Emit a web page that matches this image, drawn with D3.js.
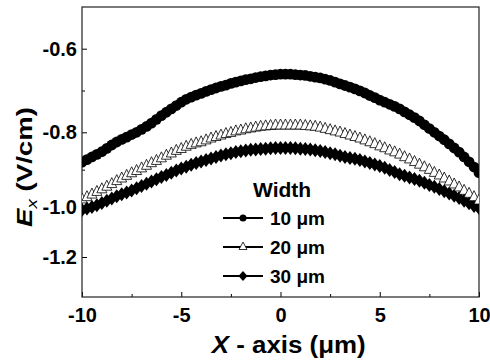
<!DOCTYPE html>
<html>
<head>
<meta charset="utf-8">
<script src="https://cdn.jsdelivr.net/npm/d3@7"></script>
<style>
  body { margin: 0; background: #fff; }
  svg { display: block; }
  text { font-family: "Liberation Sans", Arial, sans-serif; font-weight: bold; fill: #000; }
</style>
</head>
<body>
<svg id="chart" width="490" height="362"></svg>
<script>
// Position along the channel (µm)
const xPositions = [
  -10, -9.75, -9.5, -9.25, -9, -8.75, -8.5, -8.25, -8, -7.75,
  -7.5, -7.25, -7, -6.75, -6.5, -6.25, -6, -5.75, -5.5, -5.25,
  -5, -4.75, -4.5, -4.25, -4, -3.75, -3.5, -3.25, -3, -2.75,
  -2.5, -2.25, -2, -1.75, -1.5, -1.25, -1, -0.75, -0.5, -0.25,
  0,
  0.25, 0.5, 0.75, 1, 1.25, 1.5, 1.75, 2, 2.25, 2.5,
  2.75, 3, 3.25, 3.5, 3.75, 4, 4.25, 4.5, 4.75, 5,
  5.25, 5.5, 5.75, 6, 6.25, 6.5, 6.75, 7, 7.25, 7.5,
  7.75, 8, 8.25, 8.5, 8.75, 9, 9.25, 9.5, 9.75, 10
];

// Ex (V/cm) for each channel width
const width10 = [
  -0.880, -0.873, -0.866, -0.859, -0.852, -0.843, -0.834, -0.826, -0.819, -0.813,
  -0.806, -0.800, -0.793, -0.786, -0.778, -0.769, -0.760, -0.752, -0.744, -0.736,
  -0.728, -0.721, -0.716, -0.711, -0.707, -0.702, -0.698, -0.694, -0.690, -0.687,
  -0.683, -0.680, -0.677, -0.674, -0.672, -0.669, -0.667, -0.665, -0.663, -0.662,
  -0.661,
  -0.661, -0.661, -0.662, -0.663, -0.664, -0.666, -0.668, -0.670, -0.673, -0.676,
  -0.680, -0.684, -0.688, -0.692, -0.696, -0.701, -0.706, -0.712, -0.717, -0.723,
  -0.728, -0.733, -0.738, -0.744, -0.751, -0.758, -0.765, -0.773, -0.782, -0.791,
  -0.800, -0.810, -0.820, -0.831, -0.842, -0.853, -0.866, -0.879, -0.893, -0.908
];
const width20 = [
  -0.981, -0.975, -0.968, -0.961, -0.954, -0.947, -0.940, -0.932, -0.925, -0.918,
  -0.911, -0.905, -0.898, -0.891, -0.884, -0.878, -0.871, -0.864, -0.858, -0.851,
  -0.846, -0.840, -0.835, -0.831, -0.828, -0.823, -0.818, -0.814, -0.810, -0.806,
  -0.803, -0.799, -0.797, -0.794, -0.792, -0.790, -0.788, -0.787, -0.786, -0.785,
  -0.785,
  -0.785, -0.785, -0.785, -0.785, -0.786, -0.787, -0.788, -0.790, -0.793, -0.796,
  -0.799, -0.802, -0.806, -0.810, -0.814, -0.818, -0.823, -0.828, -0.833, -0.839,
  -0.844, -0.850, -0.855, -0.861, -0.868, -0.874, -0.881, -0.888, -0.895, -0.902,
  -0.910, -0.917, -0.925, -0.933, -0.941, -0.949, -0.958, -0.966, -0.975, -0.984
];
const width30 = [
  -1.012, -1.006, -1.000, -0.995, -0.989, -0.983, -0.977, -0.971, -0.966, -0.961,
  -0.956, -0.950, -0.944, -0.938, -0.932, -0.926, -0.920, -0.914, -0.908, -0.902,
  -0.897, -0.892, -0.887, -0.882, -0.878, -0.874, -0.870, -0.866, -0.862, -0.859,
  -0.856, -0.853, -0.851, -0.849, -0.847, -0.846, -0.845, -0.844, -0.843, -0.842,
  -0.842,
  -0.842, -0.842, -0.843, -0.844, -0.845, -0.846, -0.848, -0.850, -0.853, -0.856,
  -0.859, -0.863, -0.866, -0.869, -0.871, -0.874, -0.878, -0.882, -0.886, -0.890,
  -0.895, -0.901, -0.906, -0.912, -0.916, -0.921, -0.925, -0.930, -0.935, -0.941,
  -0.946, -0.952, -0.958, -0.964, -0.970, -0.976, -0.983, -0.990, -0.997, -1.004
];

const xTicks = [-10, -5, 0, 5, 10];
const xMinorTicks = [-7.5, -2.5, 2.5, 7.5];
const yTicks = [-1.2, -1.0, -0.8, -0.6];
const yMinorTicks = [-0.9, -0.7];
const yBreaks = [-1.36, -1.2, -1.0, -0.8, -0.6, -0.5];
const legendTitle = "Width";
const legendLabels = ["10 μm", "20 μm", "30 μm"];

const svg = d3.select("#chart");
const plot = { left: 82, right: 479, top: 7, bottom: 297 };

const x = d3.scaleLinear().domain([-10, 10]).range([plot.left, plot.right]);
// The value axis is labelled unevenly, so it is a piecewise-linear scale
const y = d3.scaleLinear().domain(yBreaks).range([297, 257, 207, 132.3, 48.7, 7]);

// Clip the marks to the frame
svg.append("defs").append("clipPath").attr("id", "clip")
  .append("rect")
  .attr("x", plot.left).attr("y", plot.top)
  .attr("width", plot.right - plot.left).attr("height", plot.bottom - plot.top);

// Axes with inward ticks
svg.append("g").attr("transform", `translate(0,${plot.bottom})`)
  .call(d3.axisBottom(x).tickValues(xTicks).tickSizeInner(-5).tickSizeOuter(0)
    .tickPadding(11).tickFormat(d => String(d)));
svg.append("g").attr("transform", `translate(0,${plot.bottom})`)
  .call(d3.axisBottom(x).tickValues(xMinorTicks).tickSizeInner(-3).tickSizeOuter(0).tickFormat(""));
svg.append("g").attr("transform", `translate(${plot.left},0)`)
  .call(d3.axisLeft(y).tickValues(yTicks).tickSizeInner(-5).tickSizeOuter(0)
    .tickPadding(5).tickFormat(d => d.toFixed(1)));
svg.append("g").attr("transform", `translate(${plot.left},0)`)
  .call(d3.axisLeft(y).tickValues(yMinorTicks).tickSizeInner(-3).tickSizeOuter(0).tickFormat(""));

svg.selectAll(".domain").remove();
svg.selectAll(".tick line").attr("stroke", "#000").attr("stroke-width", 1);
svg.selectAll(".tick text")
  .style("font-family", "'Liberation Sans', Arial, sans-serif")
  .style("font-weight", "bold").style("font-size", "20px").attr("fill", "#000");

// Frame
svg.append("rect")
  .attr("x", plot.left).attr("y", plot.top)
  .attr("width", plot.right - plot.left).attr("height", plot.bottom - plot.top)
  .attr("fill", "none").attr("stroke", "#222").attr("stroke-width", 1.2);

// Marker shapes
const diamondPath = "M0,-7L5.5,0L0,7L-5.5,0Z";
const trianglePath = "M0,-7L5,3L-5,3Z";

const marks = svg.append("g").attr("clip-path", "url(#clip)");
const pts = (vals) => xPositions.map((xv, i) => [xv, vals[i]]);

// 30 µm: filled diamonds
marks.append("g").selectAll("path").data(pts(width30)).join("path")
  .attr("d", diamondPath)
  .attr("transform", d => `translate(${x(d[0])},${y(d[1])})`)
  .attr("fill", "#000");

// 20 µm: line with open triangles
marks.append("path").datum(pts(width20))
  .attr("d", d3.line().x(d => x(d[0])).y(d => y(d[1])))
  .attr("fill", "none").attr("stroke", "#333").attr("stroke-width", 1);
marks.append("g").selectAll("path").data(pts(width20)).join("path")
  .attr("d", trianglePath)
  .attr("transform", d => `translate(${x(d[0])},${y(d[1])})`)
  .attr("fill", "#fff").attr("stroke", "#000").attr("stroke-width", 0.8);

// 10 µm: filled circles
marks.append("g").selectAll("circle").data(pts(width10)).join("circle")
  .attr("cx", d => x(d[0])).attr("cy", d => y(d[1])).attr("r", 5.4)
  .attr("fill", "#000");

// Legend
const legend = svg.append("g");
legend.append("text").attr("x", 253).attr("y", 197)
  .style("font-size", "21px").text(legendTitle);
const rowY = [218, 247, 276];
const legendShapes = [
  g => g.append("circle").attr("r", 3.5).attr("fill", "#000"),
  g => g.append("path").attr("d", "M0,-5L4,2.5L-4,2.5Z").attr("fill", "#fff").attr("stroke", "#000").attr("stroke-width", 0.8),
  g => g.append("path").attr("d", "M0,-5L4.5,0L0,5L-4.5,0Z").attr("fill", "#000")
];
legendLabels.forEach((label, i) => {
  const row = legend.append("g").attr("transform", `translate(0,${rowY[i]})`);
  row.append("line").attr("x1", 223).attr("x2", 263).attr("y1", 0).attr("y2", 0)
    .attr("stroke", "#000").attr("stroke-width", 2);
  legendShapes[i](row.append("g").attr("transform", "translate(243,0)"));
  row.append("text").attr("x", 270).attr("y", 0).attr("dy", "0.36em")
    .style("font-size", "19px").text(label);
});

// Axis titles
const xTitle = svg.append("text")
  .attr("x", 288.7).attr("y", 353).attr("text-anchor", "middle")
  .attr("textLength", 154).attr("lengthAdjust", "spacingAndGlyphs")
  .style("font-size", "23px");
xTitle.append("tspan").style("font-style", "italic").text("X");
xTitle.append("tspan").text(" - axis (μm)");

const yTitle = svg.append("text")
  .attr("transform", "translate(31.5,167) rotate(-90)").attr("text-anchor", "middle")
  .attr("textLength", 120).attr("lengthAdjust", "spacingAndGlyphs")
  .style("font-size", "22px");
yTitle.append("tspan").style("font-style", "italic").text("E");
yTitle.append("tspan").style("font-style", "italic").style("font-weight", "normal")
  .style("font-size", "15px").attr("dy", 5).text("x");
yTitle.append("tspan").attr("dy", -5).text(" (V/cm)");
</script>
</body>
</html>
